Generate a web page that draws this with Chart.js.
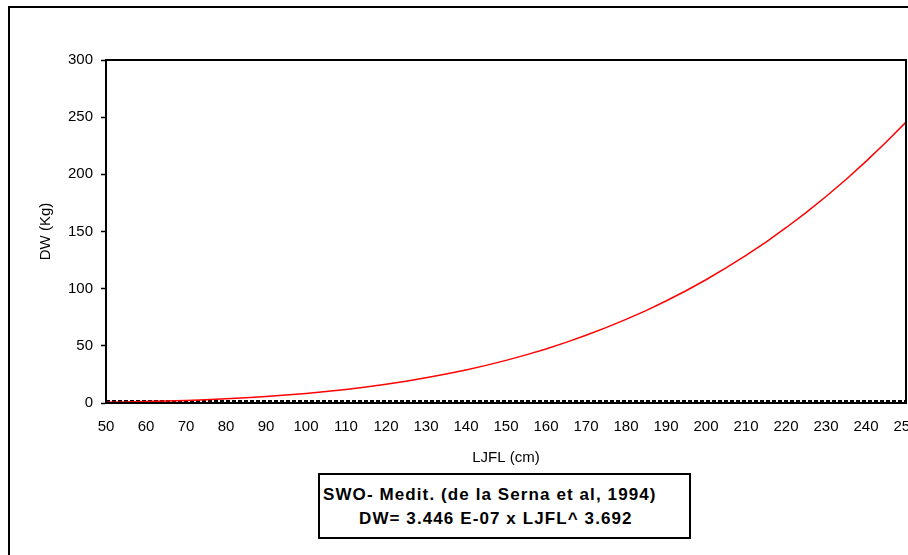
<!DOCTYPE html>
<html>
<head>
<meta charset="utf-8">
<script src="https://cdn.jsdelivr.net/npm/chart.js@4.4.1/dist/chart.umd.min.js"></script>
<style>
    html, body { margin: 0; padding: 0; background: #fff; overflow: hidden; width: 908px; height: 555px; }
    .frame { position: absolute; left: 8px; top: 6px; width: 1000px; height: 700px; border: 2px solid #000; }
    .wrap { position: absolute; left: 0; top: 0; width: 950px; height: 555px; }
    .note {
        position: absolute; left: 318px; top: 473px; width: 369px; height: 62px;
        border: 2px solid #000; background: #fff;
        font: bold 17px "Liberation Sans", Arial, sans-serif; color: #000; letter-spacing: 1.1px;
    }
    .note span { position: absolute; white-space: nowrap; line-height: 24px; }
</style>
</head>
<body>
<div class="frame"></div>
<div class="wrap"><canvas id="chart"></canvas></div>
<div class="note">
    <span style="left: 3px; top: 8px;">SWO- Medit. (de la Serna et al, 1994)</span>
    <span style="left: 39px; top: 32px;">DW= 3.446 E-07 x LJFL^ 3.692</span>
</div>
<script>
// LJFL (cm) every 5 cm
const lengths = [50, 55, 60, 65, 70, 75, 80, 85, 90, 95,
                 100, 105, 110, 115, 120, 125, 130, 135, 140, 145,
                 150, 155, 160, 165, 170, 175, 180, 185, 190, 195,
                 200, 205, 210, 215, 220, 225, 230, 235, 240, 245, 250];
// DW (Kg)
const weights = [0.6, 0.9, 1.3, 1.7, 2.2, 2.9, 3.7, 4.6, 5.7, 6.9,
                 8.3, 10.0, 11.9, 14.0, 16.4, 19.0, 22.0, 25.3, 28.9, 32.9,
                 37.3, 42.1, 47.3, 53.0, 59.2, 65.9, 73.1, 80.8, 89.2, 98.2,
                 107.8, 118.1, 129.1, 140.8, 153.3, 166.5, 180.6, 195.5, 211.3, 228.0, 245.7];
// dotted zero line along the axis
const baseline = [{x: 50, y: 0}, {x: 250, y: 0}];

const yTicks = [0, 50, 100, 150, 200, 250, 300];

const font = { family: '"Liberation Sans", Arial, sans-serif', size: 15 };

// box around the plot area
const plotBox = {
    id: 'plotBox',
    afterDraw(chart) {
        const a = chart.chartArea;
        const ctx = chart.ctx;
        ctx.save();
        ctx.strokeStyle = '#000';
        ctx.lineWidth = 2;
        ctx.strokeRect(a.left, a.top, a.right - a.left, a.bottom - a.top);
        ctx.restore();
    }
};

const ctx = document.getElementById('chart').getContext('2d');
new Chart(ctx, {
    type: 'line',
    data: {
        datasets: [{
            label: 'DW',
            data: lengths.map((l, i) => ({x: l, y: weights[i]})),
            borderColor: '#ff0000',
            borderWidth: 1.5,
            pointRadius: 0,
            tension: 0,
            order: 0
        }, {
            label: 'zero',
            data: baseline,
            borderColor: '#000',
            borderWidth: 6,
            borderDash: [4, 2],
            pointRadius: 0,
            clip: { left: 0, top: 0, right: 0, bottom: 0 },
            order: 1
        }]
    },
    options: {
        responsive: true,
        maintainAspectRatio: false,
        animation: false,
        layout: { padding: { left: 37, top: 60, right: 44, bottom: 88 } },
        plugins: {
            legend: { display: false },
            tooltip: { enabled: false }
        },
        scales: {
            x: {
                type: 'linear',
                min: 50,
                max: 250,
                afterFit(scale) { scale.height = 64; },
                ticks: { stepSize: 10, color: '#000', font: font, padding: 15, maxRotation: 0 },
                grid: { drawOnChartArea: false, drawTicks: false },
                border: { color: '#000', width: 2 },
                title: { display: true, text: 'LJFL (cm)', color: '#000', font: font, padding: 0 }
            },
            y: {
                min: 0,
                max: 300,
                afterFit(scale) { scale.width = 69; },
                afterBuildTicks(scale) { scale.ticks = yTicks.map(v => ({ value: v })); },
                ticks: { color: '#000', font: font, padding: 8 },
                grid: { drawOnChartArea: false, drawTicks: true, tickLength: 5, tickColor: '#000', tickWidth: 1.5 },
                border: { color: '#000', width: 2 },
                title: { display: true, text: 'DW (Kg)', color: '#000', font: font, padding: 0 }
            }
        }
    },
    plugins: [plotBox]
});
</script>
</body>
</html>
